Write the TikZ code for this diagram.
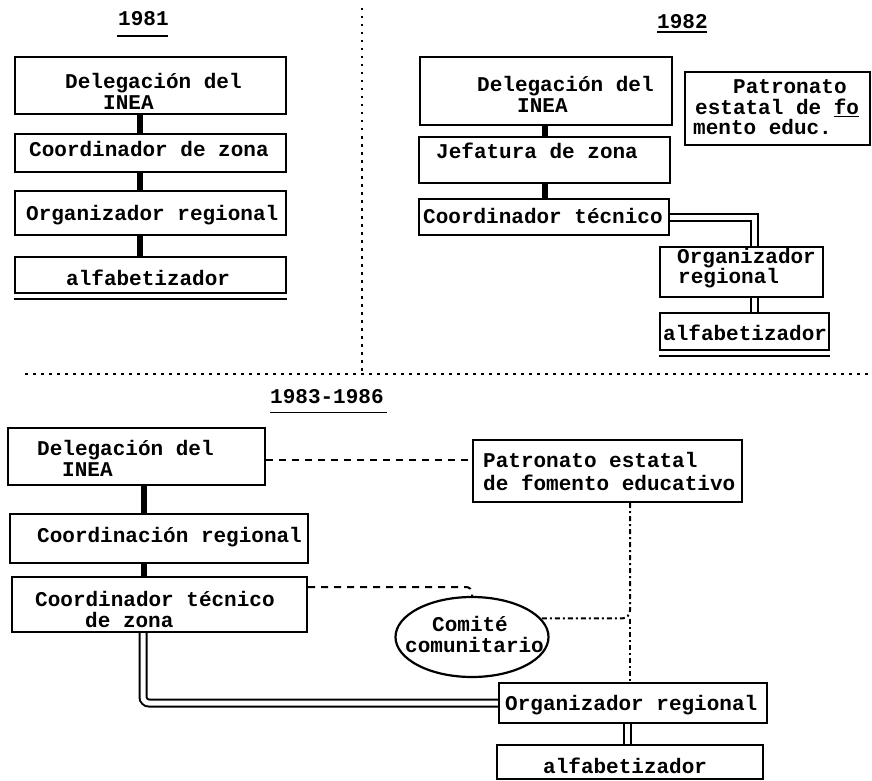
\documentclass[tikz,border=0pt]{standalone}
\usepackage{fontspec}
\newfontfamily\tw{Liberation Mono}
\usetikzlibrary{shapes.geometric}
\begin{document}
\begin{tikzpicture}[x=1pt,y=-1pt,
  box/.style={draw, line width=2.2pt, rectangle, inner sep=0pt},
  oval/.style={draw, line width=2.2pt, ellipse, inner sep=0pt},
  txt/.style={anchor=base west, inner sep=0pt, font=\tw\bfseries\fontsize{21}{21}\selectfont},
  thk/.style={line width=6pt},
  dbl/.style={double, double distance=5pt, line width=2pt},
  sep/.style={line width=2.2pt, dash pattern=on 2.5pt off 5.5pt},
  dsh/.style={line width=2pt, dash pattern=on 7pt off 6pt},
  dshv/.style={line width=2pt, dash pattern=on 5pt off 3pt on 2pt off 3pt},
  uline/.style={line width=1.8pt},
  extra/.style={line width=2pt}]
\fill[white] (0,0) rectangle (872,781);
\useasboundingbox (0,0) rectangle (872,781);

% separators
\coordinate (s1) at (362,8);
\coordinate (s2) at (362,374);
\coordinate (s3) at (25,374);
\coordinate (s4) at (872,374);
\draw[sep] (s1) -- (s2);
\draw[sep] (s3) -- (s4);

% ---------------- 1981
\node[txt] (y81) at (118,26) {1981};
\draw[uline] (y81.base west) ++(-1,10) -- ++(51,0);
\node[box, minimum width=271, minimum height=57] (a1) at (150.5,85.5) {};
\node[box, minimum width=271, minimum height=38] (a2) at (150.5,153) {};
\node[box, minimum width=271, minimum height=44] (a3) at (150.5,213) {};
\node[box, minimum width=271, minimum height=36] (a4) at (150.5,275) {};
\draw[extra] ([yshift=-5pt]a4.south west) -- ([yshift=-5pt]a4.south east);
\node[txt] (ta1) at (65,89) {Delegación del};
\node[txt] (ta1b) at (103,110) {INEA};
\node[txt] (ta2) at (29,157) {Coordinador de zona};
\node[txt] (ta3) at (26,220) {Organizador regional};
\node[txt] (ta4) at (66,285) {alfabetizador};
\coordinate (ax) at (140,0);
\draw[thk] (a1.south -| ax) -- (a2.north -| ax);
\draw[thk] (a2.south -| ax) -- (a3.north -| ax);
\draw[thk] (a3.south -| ax) -- (a4.north -| ax);

% ---------------- 1982
\node[txt] (y82) at (657,29) {1982};
\draw[uline] (y82.base west) ++(0,3) -- ++(50,0);
\node[box, minimum width=252, minimum height=68] (b1) at (546,91) {};
\node[box, minimum width=251, minimum height=46] (b2) at (544.5,160) {};
\node[box, minimum width=250, minimum height=36] (b3) at (544,217) {};
\node[box, minimum width=185, minimum height=73] (b4) at (777.5,108.5) {};
\node[box, minimum width=163, minimum height=50] (b5) at (741.5,272) {};
\node[box, minimum width=169, minimum height=37] (b6) at (744.5,331.5) {};
\draw[extra] ([yshift=-5pt]b6.south west) -- ([yshift=-5pt]b6.south east);
\node[txt] (tb1) at (477,92) {Delegación del};
\node[txt] (tb1b) at (517,113) {INEA};
\node[txt] (tb2) at (436,158) {Jefatura de zona};
\node[txt] (tb3) at (423,223) {Coordinador técnico};
\node[txt] (tb4) at (733,94) {Patronato};
\node[txt] (tb4b) at (695,115) {estatal de \underline{fo}};
\node[txt] (tb4c) at (693,135) {mento educ.};
\node[txt] (tb5) at (677,263) {Organizador};
\node[txt] (tb5b) at (678,283) {regional};
\node[txt] (tb6) at (663,340) {alfabetizador};
\coordinate (bxc) at (545,0);
\draw[thk] (b1.south -| bxc) -- (b2.north -| bxc);
\draw[thk] (b2.south -| bxc) -- (b3.north -| bxc);
\coordinate (bx) at (754,0);
\draw[dbl] (b3.east) -| (bx |- b5.north);
\draw[dbl] (bx |- b5.south) -- (bx |- b6.north);

% ---------------- 1983-1986
\node[txt] (y83) at (270,403) {1983-1986};
\draw[uline] (y83.base west) ++(0,9.5) -- ++(117,0);
\node[box, minimum width=257, minimum height=57] (c1) at (136.5,456.5) {};
\node[box, minimum width=298, minimum height=49] (c2) at (159,538.5) {};
\node[box, minimum width=295, minimum height=55] (c3) at (159.5,604.5) {};
\node[box, minimum width=269, minimum height=62] (c4) at (607.5,471) {};
\node[oval, minimum width=153, minimum height=80] (c5) at (472,637) {};
\node[box, minimum width=268, minimum height=40] (c6) at (633,703) {};
\node[box, minimum width=266, minimum height=34] (c7) at (630,762) {};
\node[txt] (tc1) at (37,455) {Delegación del};
\node[txt] (tc1b) at (62,476) {INEA};
\node[txt] (tc2) at (37,542) {Coordinación regional};
\node[txt] (tc3) at (35,606) {Coordinador técnico};
\node[txt] (tc3b) at (85,627) {de zona};
\node[txt] (tc4) at (483,467) {Patronato estatal};
\node[txt] (tc4b) at (483,490) {de fomento educativo};
\node[txt] (tc5) at (432,631) {Comité};
\node[txt] (tc5b) at (405,652) {comunitario};
\node[txt] (tc6) at (505,710) {Organizador regional};
\node[txt] (tc7) at (543,773) {alfabetizador};
\coordinate (cxc) at (144,0);
\draw[thk] (c1.south -| cxc) -- (c2.north -| cxc);
\draw[thk] (c2.south -| cxc) -- (c3.north -| cxc);
\coordinate (cx2) at (143,0);
\draw[dbl, rounded corners=6pt] (cx2 |- c3.south) |- (c6.west);
\coordinate (cx3) at (627,0);
\draw[dbl] (cx3 |- c6.south) -- (cx3 |- c7.north);
\coordinate (cy) at (0,460);
\draw[dsh] (c1.east |- cy) -- (c4.west |- cy);
\coordinate (jn) at (630,619);
\draw[dshv, rounded corners=8pt] (c4.south -| jn) |- (c5.15);
\draw[dshv] (jn) -- (jn |- c6.north);
\coordinate (k) at (462,587);
\draw[dsh, rounded corners=6pt] (c3.east |- k) -| (c5.north);
\end{tikzpicture}
\end{document}
